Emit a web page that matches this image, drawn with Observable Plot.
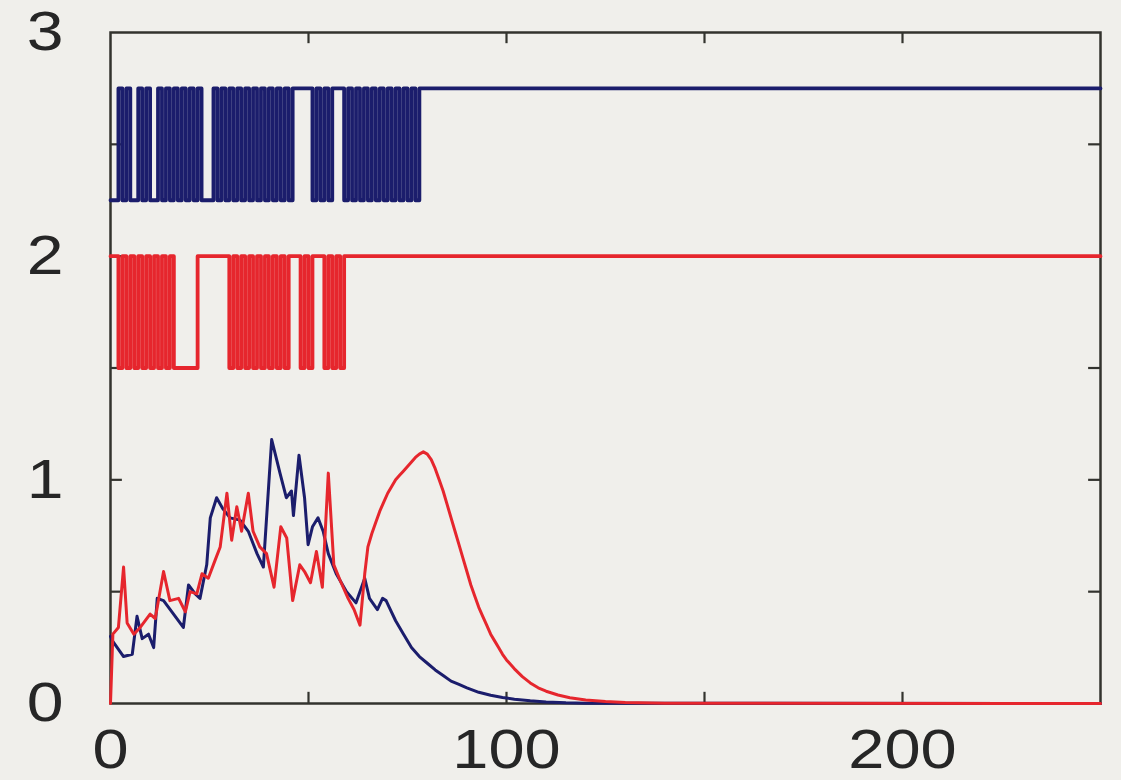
<!DOCTYPE html>
<html><head><meta charset="utf-8">
<script src="https://cdn.jsdelivr.net/npm/d3@7"></script>
<script src="https://cdn.jsdelivr.net/npm/@observablehq/plot@0.6"></script>
<style>
html,body{margin:0;padding:0;background:#f0efeb;}
#chart svg{display:block;}
</style></head><body><div id="chart"></div>
<script>
// ---- axis ticks ----
const xTickMarks = [50, 100, 150, 200];
const xTickLabels = [0, 100, 200];
const yTickMarks = [0.5, 1, 1.5, 2, 2.5];
const yTickLabels = [0, 1, 2, 3];
const xDomain = [0, 250];
const yDomain = [0, 3];

// ---- switching states (one per time step), 1 = upper level ----
const blueLevels = [2.25, 2.75];
const redLevels = [1.5, 2.0];
const blueStates = [
  0,0,1,0,1,0,0,1,0,1,0,0,
  1,0,1,0,1,0,1,0,1,0,1,
  0,0,0,
  1,0,1,0,1,0,1,0,1,0,1,0,1,0,1,0,1,0,1,0,1,
  1,1,1,1,
  0,1,0,1,0,
  1,1,1,
  0,1,0,1,0,1,0,1,0,1,0,1,0,1,0,1,0,1,0,1,
  1
];
const redStates = [
  1,1,
  0,1,0,1,0,1,0,1,0,1,0,1,0,1,0,
  0,0,0,0,0,
  1,1,1,1,1,1,1,1,
  0,1,0,1,0,1,0,1,0,1,0,1,0,1,0,1,
  1,1,
  0,1,0,1,1,1,0,1,0,1,0,1
];

// ---- lower curves ----
const blueT = [0,0.5,3.3,5.5,6.7,8,9.6,10.9,11.8,13.4,15.5,18.4,19.7,21.4,22.6,24.3,25.2,26.8,28.4,30.2,32.7,34.8,37,38.6,40.7,42.8,44.4,45.7,46.2,47.6,49,49.9,51,52.4,53.7,55,57,59.6,62,64.2,65.4,67.4,68.7,69.6,70.4,72,74,76,78,80,82,84,86,88,90,93,96,99,102,106,110,115,120,250];
const blueV = [0.30,0.28,0.21,0.22,0.39,0.29,0.31,0.25,0.47,0.46,0.41,0.34,0.53,0.49,0.47,0.62,0.83,0.92,0.87,0.83,0.82,0.77,0.67,0.61,1.18,1.03,0.92,0.95,0.84,1.11,0.92,0.71,0.79,0.83,0.77,0.67,0.58,0.50,0.45,0.56,0.47,0.42,0.47,0.46,0.43,0.37,0.31,0.25,0.21,0.18,0.15,0.125,0.10,0.085,0.07,0.05,0.037,0.027,0.019,0.012,0.007,0.003,0.001,0];
const redT = [0,0.6,2,3.3,4.2,5.9,7.5,10,11.3,13.4,15,17.2,18.9,20.1,21.8,23.1,24.7,26.4,27.7,29.4,30.6,31.9,33.1,34.8,36,37.7,39.4,41.3,43,44.5,46,47.8,49,50.5,52,53.5,55,56.4,58,60,61.5,63,64.2,65,66,67,68,69,70,71,72,73,74,75,76,77,78,79,80,81,82,83,84,85,86,87,88,89,90,91,92,93,94,95,96,97,98,99,100,102,104,106,108,110,113,116,120,125,130,140,250];
const redV = [0,0.31,0.34,0.61,0.36,0.31,0.34,0.40,0.38,0.59,0.46,0.47,0.41,0.50,0.49,0.58,0.56,0.64,0.70,0.94,0.73,0.88,0.77,0.94,0.77,0.70,0.67,0.52,0.79,0.74,0.46,0.62,0.59,0.54,0.68,0.52,1.03,0.62,0.55,0.47,0.42,0.35,0.58,0.70,0.76,0.81,0.86,0.90,0.94,0.97,1.00,1.02,1.04,1.06,1.08,1.10,1.115,1.125,1.115,1.09,1.05,1.00,0.95,0.89,0.83,0.77,0.71,0.65,0.59,0.53,0.48,0.43,0.39,0.35,0.31,0.28,0.25,0.22,0.195,0.155,0.12,0.092,0.07,0.055,0.038,0.026,0.016,0.009,0.004,0.001,0];

// ---- styles ----
const BLUE = "#1b1d6c";
const RED = "#e6262d";
const FRAME = "#33332e";
const TEXT = "#262626";

// ---- build tables ----
function squareTable(states, levels, end) {
  const rows = states.map((s, i) => ({t: i, v: levels[s]}));
  rows.push({t: end, v: levels[states[states.length - 1]]});
  return rows;
}
const blueSquare = squareTable(blueStates, blueLevels, xDomain[1]);
const redSquare = squareTable(redStates, redLevels, xDomain[1]);
const blueCurve = blueT.map((t, i) => ({t, v: blueV[i]}));
const redCurve = redT.map((t, i) => ({t, v: redV[i]}));

const chart = Plot.plot({
  width: 1121,
  height: 780,
  marginLeft: 110,
  marginRight: 21,
  marginTop: 32,
  marginBottom: 77,
  x: {domain: xDomain, label: null},
  y: {domain: yDomain, label: null},
  style: {background: "transparent", fontFamily: "'Liberation Sans', Arial, Helvetica, sans-serif"},
  marks: [
    Plot.axisX(xTickLabels, {tickSize: 0, tickPadding: 25, fontSize: 55, color: TEXT, label: null, tickFormat: d => String(d)}),
    Plot.axisY(yTickLabels, {tickSize: 0, tickPadding: 47, fontSize: 56, color: TEXT, label: null, tickFormat: d => String(d)}),
    Plot.frame({stroke: FRAME, strokeWidth: 2.5}),
    Plot.ruleX(xTickMarks, {x: d => d, y1: yDomain[0], y2: 0.05, stroke: FRAME, strokeWidth: 2.2}),
    Plot.ruleX(xTickMarks, {x: d => d, y1: yDomain[1], y2: 2.95, stroke: FRAME, strokeWidth: 2.2}),
    Plot.ruleY(yTickMarks, {y: d => d, x1: xDomain[0], x2: 3, stroke: FRAME, strokeWidth: 2.2}),
    Plot.ruleY(yTickMarks, {y: d => d, x1: xDomain[1], x2: 247, stroke: FRAME, strokeWidth: 2.2}),
    Plot.line(blueSquare, {x: "t", y: "v", curve: "step-after", stroke: BLUE, strokeWidth: 3.8}),
    Plot.line(redSquare, {x: "t", y: "v", curve: "step-after", stroke: RED, strokeWidth: 3.8}),
    Plot.line(blueCurve, {x: "t", y: "v", stroke: BLUE, strokeWidth: 3, strokeLinejoin: "round"}),
    Plot.line(redCurve, {x: "t", y: "v", stroke: RED, strokeWidth: 3, strokeLinejoin: "round"})
  ]
});
document.getElementById("chart").appendChild(chart);
// widen tick label glyphs like the original typeface
chart.querySelectorAll('g[aria-label="x-axis tick label"] text, g[aria-label="y-axis tick label"] text').forEach(el => {
  const len = el.getComputedTextLength();
  if (len > 0) {
    el.setAttribute("textLength", (len * 1.18).toFixed(1));
    el.setAttribute("lengthAdjust", "spacingAndGlyphs");
  }
});
</script></body></html>
